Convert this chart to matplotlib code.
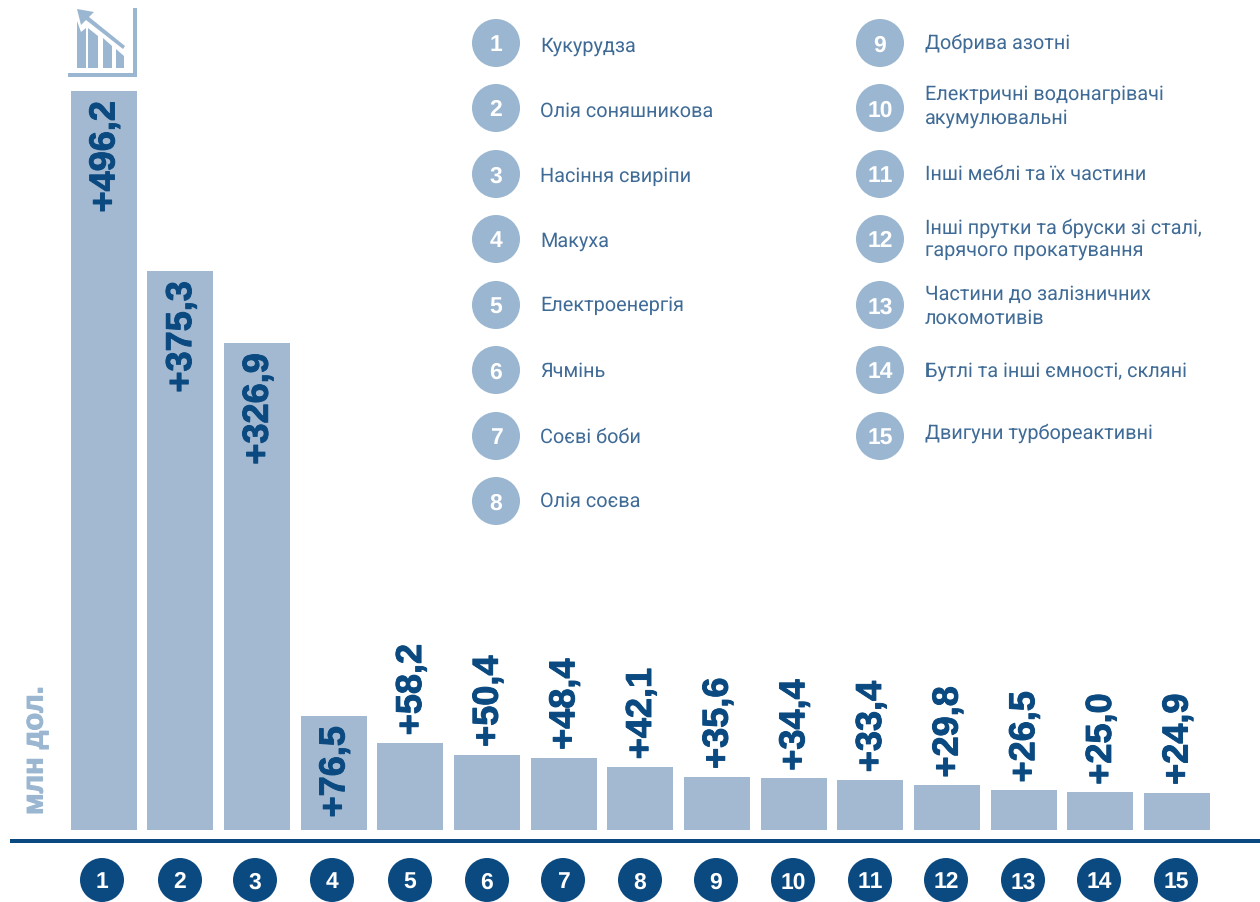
import matplotlib
matplotlib.use("Agg")
import matplotlib.pyplot as plt
import matplotlib.patheffects as pe
from matplotlib.patches import Circle, Polygon, Rectangle

plt.rcParams["text.hinting"] = "no_hinting"
plt.rcParams["text.kerning_factor"] = 6

numbers = list(range(1, 16))
values = [496.2, 375.3, 326.9, 76.5, 58.2, 50.4, 48.4, 42.1, 35.6, 34.4, 33.4, 29.8, 26.5, 25.0, 24.9]
labels_text = ["+496,2", "+375,3", "+326,9", "+76,5", "+58,2", "+50,4", "+48,4", "+42,1",
               "+35,6", "+34,4", "+33,4", "+29,8", "+26,5", "+25,0", "+24,9"]
legend_left = ["Кукурудза", "Олія соняшникова", "Насіння свиріпи", "Макуха", "Електроенергія",
               "Ячмінь", "Соєві боби", "Олія соєва"]
legend_right = [["Добрива азотні"], ["Електричні водонагрівачі", "акумулювальні"], ["Інші меблі та їх частини"],
                ["Інші прутки та бруски зі сталі,", "гарячого прокатування"], ["Частини до залізничних", "локомотивів"],
                ["Бутлі та інші ємності, скляні"], ["Двигуни турбореактивні"]]
unit = "млн дол."

BAR = "#a3b9d2"
DARK = "#0b4a80"
CIRC = "#9ab6d0"
TXT = "#3f6b96"
NARROW = "Roboto"
ARIAL = "Liberation Sans"
LEG_SIZE = 14.3
NUM_SIZE = 16.5

W, H = 1260, 902
fig = plt.figure(figsize=(W / 100, H / 100), dpi=100, facecolor="white")

step, px_per_val, first_c, base_y = 76.65, 1.4893, 103.75, 829.6
ax = fig.add_axes([0, 0, 1, 1])
ax.set_xlim(-first_c / step, (W - first_c) / step)
ax.set_ylim(-(H - base_y) / px_per_val, base_y / px_per_val)
ax.axis("off")
pos = [n - 1 for n in numbers]
ax.bar(pos, values, width=66 / step, color=BAR, linewidth=0)
thick = [pe.withStroke(linewidth=0.7, foreground=DARK)]
for p, v, s in zip(pos, values, labels_text):
    inside = v > 70
    ax.annotate(s, (p, v), xytext=(1, -7.5 if inside else 5.5), textcoords="offset points", rotation=90,
                ha="center", va="top" if inside else "bottom", fontsize=26, fontweight="bold",
                family=ARIAL, color=DARK, path_effects=thick)

ov = fig.add_axes([0, 0, 1, 1], facecolor="none")
ov.set_xlim(0, W)
ov.set_ylim(H, 0)
ov.axis("off")
ov.add_patch(Rectangle((10, 839), 1250, 4, color=DARK, lw=0))
ov.text(35, 815, unit, rotation=90, ha="center", va="bottom", fontsize=21, fontweight="bold",
        family=ARIAL, color=CIRC, path_effects=[pe.withStroke(linewidth=0.8, foreground=CIRC)])

bottom_x = [102, 180, 255, 332, 410, 487, 563, 640, 716, 793, 870, 946, 1023, 1099, 1176]
for n, x in zip(numbers, bottom_x):
    ov.add_patch(Circle((x, 880), 22, color=DARK, lw=0))
    ov.text(x, 880, str(n), ha="center", va="center_baseline", fontsize=NUM_SIZE, fontweight="bold",
            family=ARIAL, color="white")

rows = [43, 108, 174, 239, 305, 370, 436, 501]
left_base = [52, 117, 182, 247, 311, 377, 443, 507]
right_base = [[49], [100, 124], [180], [234, 257], [300, 324], [377], [439]]
for i, s in enumerate(legend_left):
    y = rows[i]
    ov.add_patch(Circle((496, y), 24, color=CIRC, lw=0))
    ov.text(496, y, str(i + 1), ha="center", va="center_baseline", fontsize=NUM_SIZE, fontweight="bold",
            family=ARIAL, color="white")
    ov.text(540, left_base[i], s, ha="left", va="baseline", fontsize=LEG_SIZE, family=NARROW, color=TXT)
for i, lines in enumerate(legend_right):
    y = rows[i]
    ov.add_patch(Circle((880, y), 24, color=CIRC, lw=0))
    ov.text(880, y, str(i + 9), ha="center", va="center_baseline", fontsize=NUM_SIZE, fontweight="bold",
            family=ARIAL, color="white")
    for s, b in zip(lines, right_base[i]):
        ov.text(925, b, s, ha="left", va="baseline", fontsize=LEG_SIZE, family=NARROW, color=TXT)

ov.add_patch(Rectangle((133, 8), 4, 69, color=CIRC, lw=0))
ov.add_patch(Rectangle((68, 73), 69, 4, color=CIRC, lw=0))
for pts in ([(77, 21), (81, 32), (86, 28), (86, 68), (77, 68)],
            [(88, 28), (98, 36), (98, 68), (88, 68)],
            [(103, 38), (112, 46), (112, 68), (103, 68)],
            [(116, 49), (124, 56), (124, 68), (116, 68)]):
    ov.add_patch(Polygon(pts, closed=True, color=CIRC, lw=0))
ov.add_patch(Polygon([(77, 9), (94, 12), (89, 17), (125, 46), (123, 49), (86, 20), (81, 25)],
                     closed=True, color=CIRC, lw=0))

fig.savefig("out.png", dpi=100, facecolor="white")
